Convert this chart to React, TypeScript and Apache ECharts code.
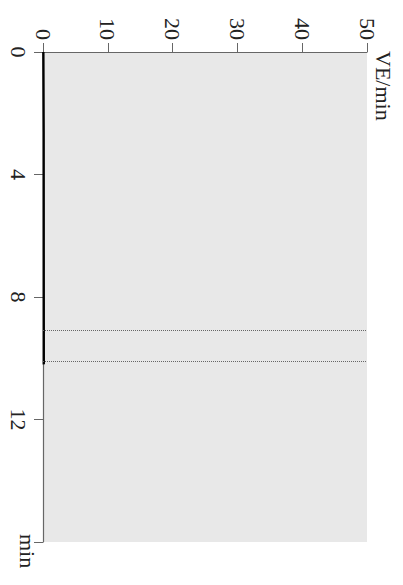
import React, { useEffect, useRef } from "react";
import * as echarts from "echarts";

const veTicks = [0, 10, 20, 30, 40, 50];
const timeTicks = [0, 4, 8, 12, 16];
const lineTimes = [0, 2.6, 10.2];
const lineVE = [0.05, 0.1, 0.12];
const markerTimes = [9.1, 10.1];
const veTitle = "VE/min";
const timeTitle = "min";

export default function App() {
  const ref = useRef<HTMLDivElement>(null);
  useEffect(() => {
    const chart = echarts.init(ref.current!, null, { renderer: "svg" });
    const font = "'Liberation Serif', 'Times New Roman', serif";
    chart.setOption({
      animation: false,
      backgroundColor: "#ffffff",
      grid: {
        left: 43,
        top: 52,
        right: 36,
        bottom: 43,
        show: true,
        backgroundColor: "#e8e8e8",
        borderWidth: 0,
      },
      graphic: [
        {
          type: "text",
          x: 383,
          y: 51,
          rotation: -Math.PI / 2,
          style: {
            text: veTitle,
            fontFamily: font,
            fontSize: 22,
            fill: "#222",
            align: "left",
            verticalAlign: "middle",
          },
        },
        {
          type: "text",
          x: 27,
          y: 534,
          rotation: -Math.PI / 2,
          style: {
            text: timeTitle,
            fontFamily: font,
            fontSize: 22,
            fill: "#222",
            align: "left",
            verticalAlign: "middle",
          },
        },
      ],
      xAxis: {
        type: "value",
        position: "top",
        min: veTicks[0],
        max: veTicks[veTicks.length - 1],
        interval: 10,
        axisLine: { show: true, lineStyle: { color: "#666", width: 1.2 } },
        axisTick: { show: true, length: 9, lineStyle: { color: "#666" } },
        axisLabel: { rotate: -90, margin: 12, fontFamily: font, fontSize: 22, color: "#222" },
        splitLine: { show: false },
      },
      yAxis: {
        type: "value",
        inverse: true,
        min: timeTicks[0],
        max: timeTicks[timeTicks.length - 1],
        interval: 4,
        axisLine: { show: true, onZero: false, lineStyle: { color: "#666", width: 1.2 } },
        axisTick: { show: true, length: 9, lineStyle: { color: "#666" } },
        axisLabel: {
          rotate: -90,
          margin: 14,
          fontFamily: font,
          fontSize: 22,
          color: "#222",
          formatter: (v: number) => (v === 16 ? "" : String(v)),
        },
        splitLine: { show: false },
      },
      series: [
        {
          type: "line",
          data: lineTimes.map((t, i) => [lineVE[i], t]),
          symbol: "none",
          lineStyle: { color: "#000", width: 2.4 },
          markLine: {
            silent: true,
            symbol: "none",
            label: { show: false },
            lineStyle: { color: "#666", type: "dotted", width: 1 },
            data: markerTimes.map((t) => ({ yAxis: t })),
          },
        },
      ],
    });
    return () => chart.dispose();
  }, []);
  return (
    <div
      ref={ref}
      style={{ position: "fixed", left: 0, top: 0, width: "403px", height: "585px" }}
    />
  );
}
